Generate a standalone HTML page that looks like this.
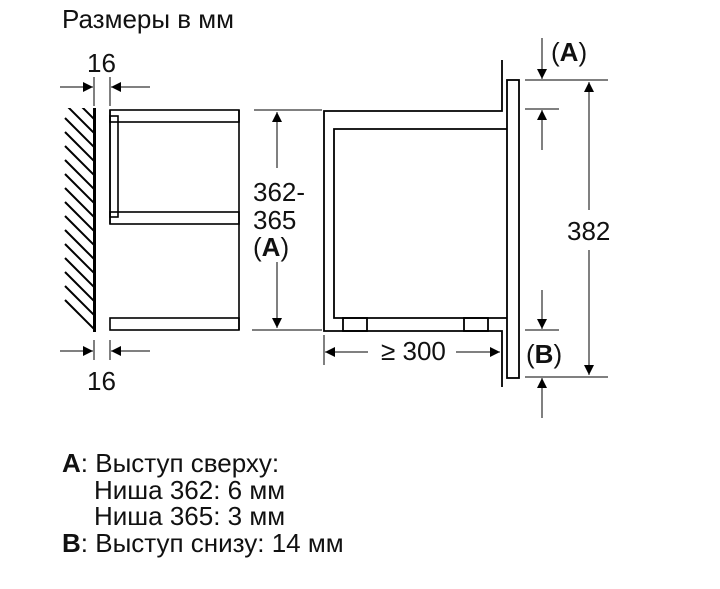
<!DOCTYPE html>
<html><head><meta charset="utf-8"><style>
html,body{margin:0;padding:0;background:#fff;}
svg{display:block;font-family:"Liberation Sans",Arial,sans-serif;}
</style></head><body>
<svg width="720" height="589" viewBox="0 0 720 589" xmlns="http://www.w3.org/2000/svg">
<defs>
<clipPath id="hc"><rect x="64" y="108" width="30" height="224"/></clipPath>
<marker id="ah" viewBox="0 0 10 10" refX="10" refY="5" markerWidth="10" markerHeight="10" markerUnits="userSpaceOnUse" orient="auto"><path d="M0,0 L10,5 L0,10 z" fill="#000"/></marker>
</defs>
<g fill="#111" font-size="26">
<text x="62" y="28">Размеры в мм</text>
<text x="62" y="472"><tspan font-weight="bold">A</tspan>: Выступ сверху:</text>
<text x="94" y="499">Ниша 362: 6 мм</text>
<text x="94" y="525">Ниша 365: 3 мм</text>
<text x="62" y="552"><tspan font-weight="bold">B</tspan>: Выступ снизу: 14 мм</text>
</g>
<g stroke="#000" stroke-width="2" clip-path="url(#hc)">
<line x1="65" y1="300" x2="95" y2="330"/><line x1="65" y1="286" x2="95" y2="316"/>
<line x1="65" y1="272" x2="95" y2="302"/><line x1="65" y1="258" x2="95" y2="288"/>
<line x1="65" y1="244" x2="95" y2="274"/><line x1="65" y1="230" x2="95" y2="260"/>
<line x1="65" y1="216" x2="95" y2="246"/><line x1="65" y1="202" x2="95" y2="232"/>
<line x1="65" y1="188" x2="95" y2="218"/><line x1="65" y1="174" x2="95" y2="204"/>
<line x1="65" y1="160" x2="95" y2="190"/><line x1="65" y1="146" x2="95" y2="176"/>
<line x1="65" y1="132" x2="95" y2="162"/><line x1="65" y1="118" x2="95" y2="148"/>
<line x1="65" y1="104" x2="95" y2="134"/><line x1="65" y1="90" x2="95" y2="120"/>
</g>
<line x1="94.5" y1="108" x2="94.5" y2="332" stroke="#000" stroke-width="3"/>
<g stroke="#000" stroke-width="1">
<line x1="94" y1="77" x2="94" y2="106"/><line x1="110" y1="77" x2="110" y2="106"/>
<line x1="60" y1="87" x2="93" y2="87" marker-end="url(#ah)"/>
<line x1="150" y1="87" x2="111" y2="87" marker-end="url(#ah)"/>
<line x1="94" y1="340" x2="94" y2="360"/><line x1="110" y1="340" x2="110" y2="360"/>
<line x1="60" y1="351" x2="93" y2="351" marker-end="url(#ah)"/>
<line x1="150" y1="351" x2="111" y2="351" marker-end="url(#ah)"/>
</g>
<g font-size="26" fill="#111">
<text x="87" y="72">16</text>
<text x="87" y="390">16</text>
</g>
<g fill="none" stroke="#000" stroke-width="1.6">
<rect x="110" y="110" width="129" height="12"/>
<rect x="110" y="116" width="8" height="101"/>
<rect x="110" y="212" width="129" height="12"/>
<rect x="110" y="318" width="129" height="12"/>
<line x1="110" y1="110" x2="110" y2="224"/>
<line x1="239" y1="110" x2="239" y2="330"/>
</g>
<g stroke="#000" stroke-width="1">
<line x1="254" y1="110" x2="322" y2="110"/><line x1="252" y1="330" x2="322" y2="330"/>
<line x1="277" y1="168" x2="277" y2="112" marker-end="url(#ah)"/>
<line x1="277" y1="262" x2="277" y2="328" marker-end="url(#ah)"/>
</g>
<g font-size="26" fill="#111">
<text x="253" y="201">362-</text>
<text x="253" y="229">365</text>
<text x="253" y="256">(<tspan font-weight="bold">A</tspan>)</text>
</g>
<g fill="none" stroke="#000" stroke-width="1.8">
<path d="M502,60 L502,111 L324,111 L324,331 L502,331 L502,387"/>
<path d="M507,129 L334,129 L334,318 L507,318"/>
<rect x="343" y="318" width="24" height="13"/>
<rect x="464" y="318" width="24" height="13"/>
<rect x="507" y="80" width="12" height="298"/>
</g>
<g stroke="#000" stroke-width="1">
<line x1="324" y1="335" x2="324" y2="365"/>
<line x1="368" y1="352" x2="325" y2="352" marker-end="url(#ah)"/>
<line x1="456" y1="352" x2="500" y2="352" marker-end="url(#ah)"/>
<line x1="525" y1="80" x2="608" y2="80"/>
<line x1="525" y1="109" x2="559" y2="109"/>
<line x1="525" y1="330" x2="559" y2="330"/>
<line x1="525" y1="377" x2="608" y2="377"/>
<line x1="589" y1="210" x2="589" y2="82" marker-end="url(#ah)"/>
<line x1="589" y1="250" x2="589" y2="375" marker-end="url(#ah)"/>
<line x1="542" y1="38" x2="542" y2="79" marker-end="url(#ah)"/>
<line x1="542" y1="150" x2="542" y2="110" marker-end="url(#ah)"/>
<line x1="542" y1="290" x2="542" y2="329" marker-end="url(#ah)"/>
<line x1="542" y1="418" x2="542" y2="378" marker-end="url(#ah)"/>
</g>
<g font-size="26" fill="#111">
<text x="381" y="360">≥ 300</text>
<text x="567" y="240">382</text>
<text x="551" y="61">(<tspan font-weight="bold">A</tspan>)</text>
<text x="526" y="363">(<tspan font-weight="bold">B</tspan>)</text>
</g>
</svg>
</body></html>
